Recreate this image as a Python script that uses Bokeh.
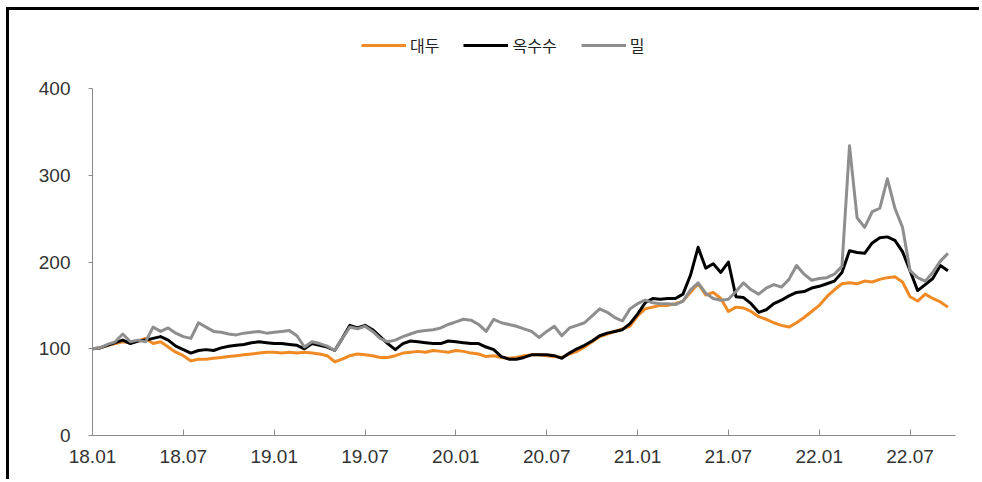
from bokeh.plotting import figure
from bokeh.models import Legend, LegendItem, FixedTicker, ColumnDataSource
from bokeh.embed import file_html
from bokeh.resources import INLINE

# Month index from 2018-01 (half-month steps)
months = [i * 0.5 for i in range(114)]

# 대두 (soybean) price index, 2018-01 = 100
soybean = [
    100, 101, 104, 106, 108, 107, 109, 112, 106, 108,
    102, 96, 92, 86, 88, 88, 89, 90, 91, 92,
    93, 94, 95, 96, 96, 95, 96, 95, 96, 95,
    94, 92, 85, 88, 92, 94, 93, 92, 90, 90,
    92, 95, 96, 97, 96, 98, 97, 96, 98, 97,
    95, 94, 91, 92, 90, 89, 90, 92, 93, 93,
    92, 91, 90, 94, 97, 102, 108, 114, 117, 120,
    123, 126, 138, 146, 148, 150, 150, 152, 155, 165,
    175, 162, 165, 158, 143, 148, 147, 143, 137, 134,
    130, 127, 125, 130, 136, 143, 150, 160, 168, 175,
    176, 175, 178, 177, 180, 182, 183, 177, 160, 155,
    163, 158, 154, 148,
]

# 옥수수 (corn) price index
corn = [
    100, 101, 104, 107, 110, 106, 109, 110, 112, 114,
    110, 103, 99, 95, 98, 99, 98, 101, 103, 104,
    105, 107, 108, 107, 106, 106, 105, 104, 100, 106,
    104, 102, 98, 112, 127, 124, 127, 122, 114, 106,
    99, 106, 109, 108, 107, 106, 106, 109, 108, 107,
    106, 106, 102, 99, 91, 88, 88, 90, 93, 93,
    93, 92, 89, 95, 100, 104, 109, 115, 118, 120,
    122, 129, 140, 153, 158, 157, 158, 158, 163, 185,
    217, 193, 198, 188, 200, 160, 159, 152, 142, 145,
    152, 156, 161, 165, 166, 170, 172, 175, 178, 188,
    213, 211, 210, 222, 228, 229, 225, 212, 190, 167,
    174, 181, 196, 190,
]

# 밀 (wheat) price index
wheat = [
    100, 101, 105, 108, 117, 108, 110, 108, 125, 120,
    124, 118, 114, 112, 130, 125, 120, 119, 117, 116,
    118, 119, 120, 118, 119, 120, 121, 115, 102, 108,
    106, 103, 98, 112, 125, 123, 126, 120, 112, 108,
    110, 114, 117, 120, 121, 122, 124, 128, 131, 134,
    133, 128, 120, 134, 130, 128, 126, 123, 120, 113,
    120, 126, 115, 124, 127, 130, 138, 146, 142, 136,
    132, 146, 152, 156, 153, 152, 152, 151, 155, 168,
    176, 164, 158, 156, 157, 166, 176, 168, 163, 170,
    174, 171, 180, 196, 186, 179, 181, 182, 186, 195,
    334, 251, 240, 258, 262, 296, 262, 240, 190, 182,
    178, 188, 201, 210,
]

# Axis ticks and labels
y_ticks = [0, 100, 200, 300, 400]
x_ticks = [0, 6, 12, 18, 24, 30, 36, 42, 48, 54]
x_labels = ["18.01", "18.07", "19.01", "19.07", "20.01",
            "20.07", "21.01", "21.07", "22.01", "22.07"]

series_names = ["대두", "옥수수", "밀"]
series_colors = ["#F08A25", "#000000", "#8E8E8E"]

src = ColumnDataSource(dict(m=months, soy=soybean, corn=corn, wheat=wheat))

# The plot area runs to the top of the canvas so the legend can sit above
# the 400 line; the y axis itself is bounded to 0..400.
p = figure(
    width=973, height=472,
    x_range=(0, 57), y_range=(0, 490),
    output_backend="svg", toolbar_location=None,
    min_border_left=83, min_border_right=27,
    min_border_top=0, min_border_bottom=47,
)
p.styles = {
    "margin-left": "6px",
    "margin-top": "7px",
    "border-top": "3px solid #000000",
    "border-left": "3px solid #000000",
}
p.outline_line_color = None
p.xgrid.visible = False
p.ygrid.visible = False

renderers = []
for col, color in zip(["soy", "corn", "wheat"], series_colors):
    r = p.line("m", col, source=src, line_color=color, line_width=3,
               line_join="round")
    renderers.append(r)

label_font = "Liberation Sans"
axis_gray = "#8A8A8A"

p.yaxis.ticker = FixedTicker(ticks=y_ticks)
p.yaxis.bounds = (0, 400)
p.yaxis.axis_line_color = axis_gray
p.yaxis.major_tick_line_color = axis_gray
p.yaxis.major_tick_in = 0
p.yaxis.major_tick_out = 4
p.yaxis.minor_tick_line_color = None
p.yaxis.major_label_text_font = label_font
p.yaxis.major_label_text_font_size = "19px"
p.yaxis.major_label_text_color = "#333333"
p.yaxis.major_label_standoff = 18

p.xaxis.ticker = FixedTicker(ticks=x_ticks)
p.xaxis.major_label_overrides = {t: l for t, l in zip(x_ticks, x_labels)}
p.xaxis.axis_line_color = axis_gray
p.xaxis.major_tick_line_color = axis_gray
p.xaxis.major_tick_in = 6
p.xaxis.major_tick_out = 0
p.xaxis.minor_tick_line_color = None
p.xaxis.major_label_text_font = label_font
p.xaxis.major_label_text_font_size = "19px"
p.xaxis.major_label_text_color = "#333333"
p.xaxis.major_label_standoff = 14

legend = Legend(
    items=[LegendItem(label=n, renderers=[r]) for n, r in zip(series_names, renderers)],
    orientation="horizontal",
    location=(269, 378),
    glyph_width=45, glyph_height=16,
    label_standoff=4, spacing=24,
    padding=0, margin=0,
    border_line_color=None, background_fill_alpha=0,
    label_text_font="Noto Sans CJK KR",
    label_text_font_size="16px",
    label_text_color="#222222",
)
p.add_layout(legend, "center")

open("out.html", "w").write(file_html(p, INLINE))
